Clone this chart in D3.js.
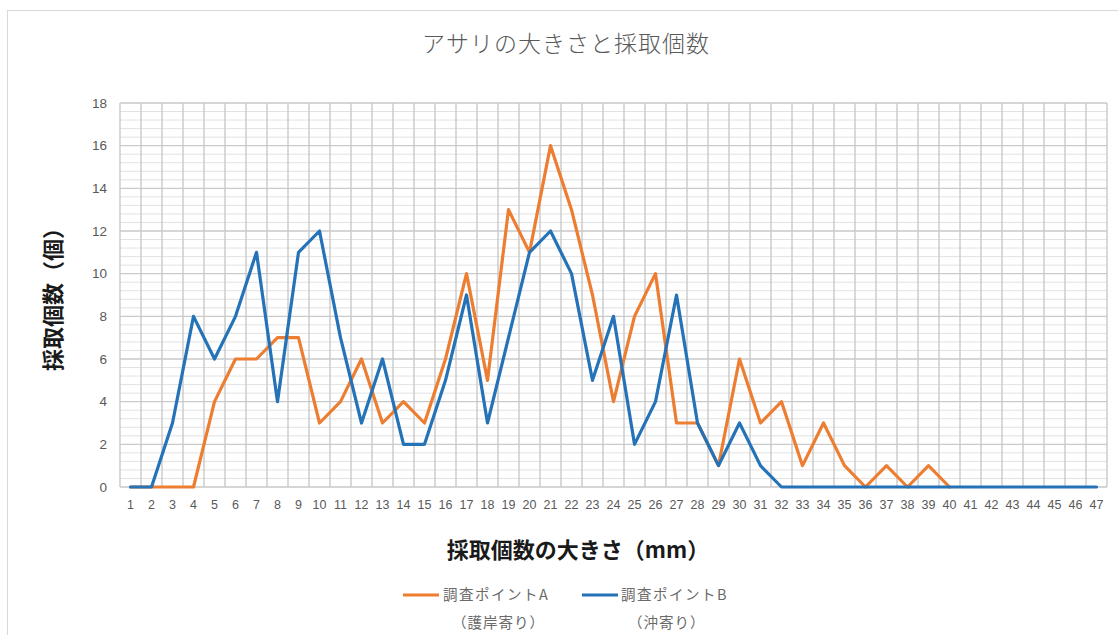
<!DOCTYPE html>
<html lang="ja">
<head>
<meta charset="utf-8">
<script src="https://cdn.jsdelivr.net/npm/d3@7"></script>
<style>
  html, body { margin: 0; padding: 0; background: #fff; }
  svg { display: block; font-family: "Noto Sans CJK JP", "Noto Sans", sans-serif; }
</style>
</head>
<body>
<svg id="chart" width="1118" height="635"></svg>
<script>
// サイズ (mm) 1〜47
const sizes = d3.range(1, 48);
// 調査ポイントA（護岸寄り）の採取個数: 1〜40mm
const pointA = [0, 0, 0, 0, 4, 6, 6, 7, 7, 3,
                4, 6, 3, 4, 3, 6, 10, 5, 13, 11,
                16, 13, 9, 4, 8, 10, 3, 3, 1, 6,
                3, 4, 1, 3, 1, 0, 1, 0, 1, 0];
// 調査ポイントB（沖寄り）の採取個数: 1〜47mm
const pointB = [0, 0, 3, 8, 6, 8, 11, 4, 11, 12,
                7, 3, 6, 2, 2, 5, 9, 3, 7, 11,
                12, 10, 5, 8, 2, 4, 9, 3, 1, 3,
                1, 0, 0, 0, 0, 0, 0, 0, 0, 0,
                0, 0, 0, 0, 0, 0, 0];
const yTicks = [0, 2, 4, 6, 8, 10, 12, 14, 16, 18];
const seriesNames = [["調査ポイントA", "（護岸寄り）"], ["調査ポイントB", "（沖寄り）"]];
const seriesColors = ["#ED7D31", "#2472B7"];

const svg = d3.select("#chart");

// chart frame
svg.append("rect")
  .attr("x", 7.5).attr("y", 10.5)
  .attr("width", 1130).attr("height", 650)
  .attr("fill", "#fff").attr("stroke", "#d9d9d9").attr("stroke-width", 1);

const plot = { left: 120, right: 1107, top: 103, bottom: 487 };

const x = d3.scaleBand().domain(sizes).range([plot.left, plot.right]).paddingInner(0).paddingOuter(0);
const y = d3.scaleLinear().domain([0, 18]).range([plot.bottom, plot.top]);
const cx = d => x(d) + x.bandwidth() / 2;

const grid = svg.append("g");

// minor horizontal gridlines (every 0.4)
const minor = d3.range(0, 18.001, 0.4).filter(v => Math.abs(v / 2 - Math.round(v / 2)) > 1e-6);
grid.selectAll("line.minor").data(minor).join("line")
  .attr("x1", plot.left).attr("x2", plot.right)
  .attr("y1", d => y(d)).attr("y2", d => y(d))
  .attr("stroke", "#e2e2e2").attr("stroke-width", 1);

// vertical gridlines at category boundaries
const bounds = sizes.map(d => x(d)).concat([plot.right]);
grid.selectAll("line.v").data(bounds).join("line")
  .attr("x1", d => d).attr("x2", d => d)
  .attr("y1", plot.top).attr("y2", plot.bottom)
  .attr("stroke", "#c9c9c9").attr("stroke-width", 1.4);

// major horizontal gridlines
grid.selectAll("line.major").data(yTicks).join("line")
  .attr("x1", plot.left).attr("x2", plot.right)
  .attr("y1", d => y(d)).attr("y2", d => y(d))
  .attr("stroke", "#c9c9c9").attr("stroke-width", 1.4);

// y axis labels
const yAxis = d3.axisLeft(y).tickValues(yTicks).tickSize(0).tickPadding(13);
svg.append("g").attr("transform", `translate(${plot.left},0)`).call(yAxis)
  .call(g => g.select(".domain").remove())
  .call(g => g.selectAll("text").attr("fill", "#595959").attr("font-size", 13.5)
    .attr("font-family", "'Liberation Sans', 'Noto Sans', sans-serif"));

// x axis labels
const xAxis = d3.axisBottom(x).tickSize(0).tickPadding(13);
svg.append("g").attr("transform", `translate(0,${plot.bottom})`).call(xAxis)
  .call(g => g.select(".domain").remove())
  .call(g => g.selectAll("text").attr("fill", "#595959").attr("font-size", 12.5)
    .attr("font-family", "'Liberation Sans', 'Noto Sans', sans-serif"));

// lines
const line = d3.line().x((d, i) => cx(sizes[i])).y(d => y(d));
[pointA, pointB].forEach((vals, k) => {
  svg.append("path")
    .datum(vals)
    .attr("d", line)
    .attr("fill", "none")
    .attr("stroke", seriesColors[k])
    .attr("stroke-width", 3.2)
    .attr("stroke-linejoin", "round")
    .attr("stroke-linecap", "round");
});

// title
svg.append("text")
  .attr("x", 566).attr("y", 52)
  .attr("text-anchor", "middle")
  .attr("font-size", 23).attr("font-weight", 300)
  .attr("letter-spacing", 1)
  .attr("fill", "#595959")
  .text("アサリの大きさと採取個数");

// axis titles
svg.append("text")
  .attr("x", 578).attr("y", 558)
  .attr("text-anchor", "middle")
  .attr("font-size", 22).attr("font-weight", 700)
  .attr("fill", "#1a1a1a")
  .text("採取個数の大きさ（mm）");

svg.append("text")
  .attr("transform", "translate(61,294) rotate(-90)")
  .attr("text-anchor", "middle")
  .attr("font-size", 22).attr("font-weight", 700)
  .attr("fill", "#1a1a1a")
  .text("採取個数（個）");

// legend
const legendItems = [
  { lx: 403, tx: 443, sub: 452 },
  { lx: 582, tx: 621, sub: 628 }
];
legendItems.forEach((it, k) => {
  const g = svg.append("g");
  g.append("line")
    .attr("x1", it.lx).attr("x2", it.lx + 36)
    .attr("y1", 595).attr("y2", 595)
    .attr("stroke", seriesColors[k]).attr("stroke-width", 3);
  g.append("text")
    .attr("x", it.tx).attr("y", 600)
    .attr("font-size", 14.5).attr("letter-spacing", 1.5)
    .attr("fill", "#6a6a6a")
    .text(seriesNames[k][0]);
  g.append("text")
    .attr("x", it.sub).attr("y", 628)
    .attr("font-size", 14.5).attr("letter-spacing", 1)
    .attr("fill", "#6a6a6a")
    .text(seriesNames[k][1]);
});
</script>
</body>
</html>
